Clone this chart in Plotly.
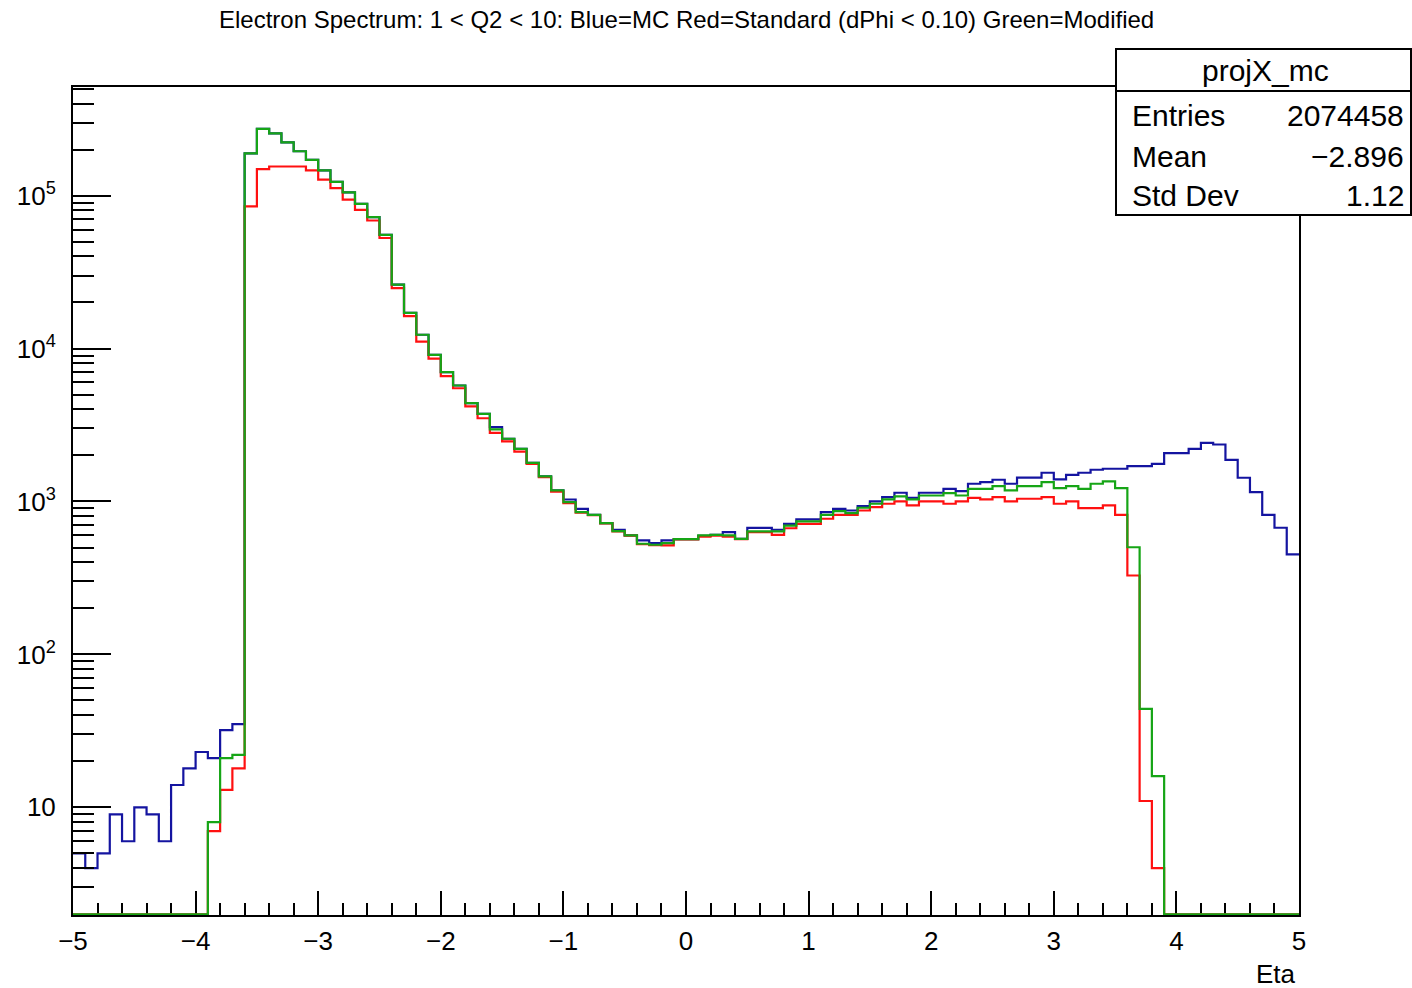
import numpy as np
import plotly.graph_objects as go

# ---------------- data ----------------
bin_low, bin_high, n_bins = -5.0, 5.0, 100

mc_blue = [5, 4, 5, 9, 6, 10, 9, 6, 14, 18, 23, 21, 32, 35,
           189000, 273000, 255000, 223000, 195000, 171000, 146000, 123000, 105000, 88300,
           72200, 55300, 26200, 17100, 12300, 9100, 7000, 5730, 4400, 3740, 3060, 2570,
           2210, 1790, 1460, 1180, 1030,
           895, 818, 722, 653, 600, 556, 534, 556, 567, 567, 595, 605, 630, 570, 671, 671,
           653, 714, 763, 763, 851, 895, 873, 931, 1000, 1066, 1140, 1057, 1140, 1140,
           1210, 1169, 1306, 1337, 1387, 1306, 1430, 1430, 1541, 1393, 1493, 1541, 1612,
           1636, 1636, 1702, 1702, 1762, 2071, 2071, 2210, 2415, 2358, 1872, 1429, 1151,
           818, 673, 451]

standard_red = [0, 0, 0, 0, 0, 0, 0, 0, 0, 0, 0, 7, 13, 18,
                85000, 149000, 155000, 155000, 155000, 146000, 127000, 112000, 94000, 80600,
                68700, 52800, 24800, 16300, 11100, 8600, 6600, 5500, 4180, 3500, 2810, 2470,
                2120, 1760, 1440, 1160, 975,
                845, 815, 720, 636, 597, 526, 518, 516, 564, 564, 588, 598, 588, 567, 630, 630,
                605, 668, 714, 714, 771, 818, 818, 873, 918, 966, 1000, 942, 1000, 1000,
                966, 1000, 1057, 1031, 1066, 1000, 1042, 1042, 1066, 966, 1000, 904, 904,
                942, 818, 328, 11, 4, 0, 0, 0, 0, 0, 0, 0, 0, 0, 0, 0]

modified_green = [0, 0, 0, 0, 0, 0, 0, 0, 0, 0, 0, 8, 21, 22,
                  189000, 273000, 255000, 223000, 195000, 171000, 146000, 123000, 105000, 88300,
                  72200, 55300, 26200, 17100, 12300, 9100, 7000, 5730, 4400, 3740, 2960, 2570,
                  2210, 1790, 1460, 1180, 989,
                  851, 818, 722, 640, 600, 529, 521, 534, 567, 567, 600, 605, 600, 570, 637, 637,
                  637, 696, 740, 740, 818, 864, 840, 910, 966, 1031, 1079, 1031, 1094, 1094,
                  1133, 1094, 1210, 1210, 1259, 1180, 1259, 1259, 1337, 1223, 1259, 1210, 1306,
                  1352, 1223, 502, 44, 16, 0, 0, 0, 0, 0, 0, 0, 0, 0, 0, 0]

x_ticks = [-5, -4, -3, -2, -1, 0, 1, 2, 3, 4, 5]
y_ticks = [10, 100, 1000, 10000, 100000]
y_ticktext = ["10", "10<sup>2</sup>", "10<sup>3</sup>", "10<sup>4</sup>", "10<sup>5</sup>"]

title_text = "Electron Spectrum: 1 < Q2 < 10: Blue=MC Red=Standard (dPhi < 0.10) Green=Modified"
stats_name = "projX_mc"
stats_rows = [("Entries", "2074458"), ("Mean", "\u22122.896"), ("Std Dev", "1.12")]

# ---------------- figure ----------------
W, H = 1412, 988
L, R, T, B = 73, 1299, 87, 915
y_floor = 2.0
FONT = "Liberation Sans, Arial, Helvetica, sans-serif"

edges = np.linspace(bin_low, bin_high, n_bins + 1)


def step_y(vals):
    v = np.array(vals, dtype=float)
    v = np.where(v > 0, v, y_floor)
    return np.append(v, v[-1])


fig = go.Figure()
for vals, col in [(mc_blue, "#1414a0"), (standard_red, "#ff1010"), (modified_green, "#16a516")]:
    fig.add_trace(go.Scatter(x=edges, y=step_y(vals), mode="lines",
                             line=dict(color=col, width=2.2, shape="hv"),
                             showlegend=False, hoverinfo="skip"))

minor_y = []
for d in range(0, 6):
    for m in range(2, 10):
        val = m * 10 ** d
        if 2 <= val <= 5.2e5:
            minor_y.append(val)

fig.update_layout(
    width=W, height=H,
    margin=dict(l=L, r=W - R, t=T, b=H - B, pad=0),
    paper_bgcolor="white", plot_bgcolor="white",
    font=dict(family=FONT, color="black"),
    showlegend=False,
    xaxis=dict(range=[bin_low, bin_high], tickmode="array", tickvals=x_ticks,
               ticks="inside", ticklen=24, tickwidth=1.5, tickcolor="black",
               minor=dict(ticks="inside", ticklen=12, tickwidth=1.5, tickcolor="black",
                          dtick=0.2, tick0=-5, showgrid=False),
               showline=True, linewidth=2, linecolor="black", mirror=True,
               showgrid=False, zeroline=False, tickfont=dict(size=26),
               ticklabelstandoff=2, layer="below traces"),
    yaxis=dict(type="log", range=[np.log10(y_floor) - 0.005, 5.71], tickmode="array",
               tickvals=y_ticks, ticktext=y_ticktext,
               ticks="inside", ticklen=38, tickwidth=1.5, tickcolor="black",
               minor=dict(ticks="inside", ticklen=21, tickwidth=1.5, tickcolor="black",
                          tickmode="array", tickvals=minor_y, showgrid=False),
               showline=True, linewidth=2, linecolor="black", mirror=True,
               showgrid=False, zeroline=False, tickfont=dict(size=26),
               ticklabelstandoff=10),
)


def px(xp):
    return (xp - L) / (R - L)


def py(yp):
    return (B - yp) / (B - T)


# title
fig.add_annotation(text=title_text, xref="paper", yref="paper", x=px(686), y=py(19),
                   xanchor="center", yanchor="middle", showarrow=False,
                   font=dict(size=24, family=FONT))

# x-axis title
fig.add_annotation(text="Eta", xref="paper", yref="paper", x=px(1298), y=py(974),
                   xanchor="right", yanchor="middle", showarrow=False,
                   font=dict(size=26, family=FONT))

# stats box
bx0, bx1, by0, by1, bsep = 1116, 1411, 49, 215, 91
fig.add_shape(type="rect", xref="paper", yref="paper", x0=px(bx0), x1=px(bx1),
              y0=py(by1), y1=py(by0), line=dict(color="black", width=2),
              fillcolor="white", layer="above")
fig.add_shape(type="line", xref="paper", yref="paper", x0=px(bx0), x1=px(bx1),
              y0=py(bsep), y1=py(bsep), line=dict(color="black", width=2), layer="above")
fig.add_annotation(text=stats_name, xref="paper", yref="paper", x=px(1265), y=py(71),
                   xanchor="center", yanchor="middle", showarrow=False,
                   font=dict(size=30, family=FONT))
for i, (lab, val) in enumerate(stats_rows):
    yc = [115, 156, 195][i]
    fig.add_annotation(text=lab, xref="paper", yref="paper", x=px(1130), y=py(yc),
                       xanchor="left", yanchor="middle", showarrow=False,
                       font=dict(size=30, family=FONT))
    fig.add_annotation(text=val, xref="paper", yref="paper", x=px(1406), y=py(yc),
                       xanchor="right", yanchor="middle", showarrow=False,
                       font=dict(size=30, family=FONT))

fig.write_html("out.html", config={"displayModeBar": False},
               post_script="document.body.style.margin='0';document.body.style.overflow='hidden';")
